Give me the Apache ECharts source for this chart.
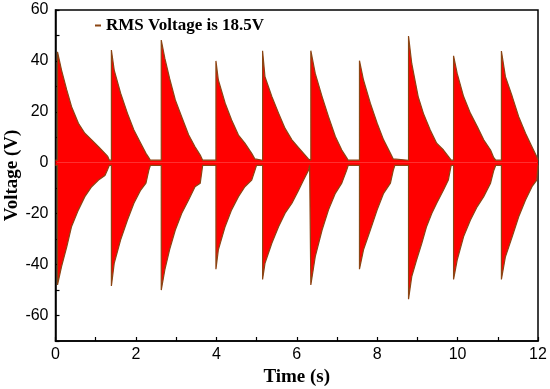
<!DOCTYPE html>
<html>
<head>
<meta charset="utf-8">
<script src="https://cdn.jsdelivr.net/npm/echarts@6/dist/echarts.min.js"></script>
<style>
html,body{margin:0;padding:0;background:#fff;}
#chart{width:550px;height:389px;}
</style>
</head>
<body>
<div id="chart"></div>
<script>
// Envelope of the recorded voltage signal: [time (s), voltage (V)]
const upperEnvelope = [
  [0.00,1],[0.05,1],[0.05,43.6],[0.15,36.4],[0.28,28.6],[0.40,22],[0.57,15.5],[0.73,11.6],[0.90,9],[1.07,6.3],[1.23,3.7],[1.30,2.5],[1.34,1],
  [1.39,1],[1.39,44.3],[1.46,36.4],[1.62,27.3],[1.79,19.4],[1.95,12.9],[2.12,7.7],[2.25,3.7],[2.32,2],[2.36,1],
  [2.63,1],[2.63,48.2],[2.72,41],[2.84,33],[2.98,24.7],[3.14,18],[3.31,11],[3.47,6.3],[3.60,3],[3.66,1],
  [3.99,1],[3.99,40],[4.05,32.5],[4.22,23.4],[4.38,16.8],[4.55,10.9],[4.71,7.7],[4.88,3.7],[4.96,1.5],[5.00,1],
  [5.15,1],[5.15,44],[5.21,33.8],[5.38,26],[5.55,19.4],[5.71,13.5],[5.88,9],[6.04,6],[6.17,3.7],[6.29,1.5],[6.32,1],
  [6.35,1],[6.35,44],[6.46,35.1],[6.63,26],[6.79,18.1],[6.96,10.3],[7.12,5],[7.24,2],[7.28,1],
  [7.56,1],[7.56,40.1],[7.66,32.5],[7.83,23.4],[8.00,15.5],[8.16,9],[8.33,3.7],[8.40,1.5],[8.44,1],
  [8.78,1],[8.78,49.8],[8.86,39],[8.94,32.5],[9.02,26],[9.15,19.4],[9.32,12.9],[9.48,7.7],[9.65,5],[9.77,2.5],[9.84,1],
  [9.90,1],[9.90,42],[9.99,35.1],[10.15,26],[10.32,19.4],[10.49,14.2],[10.65,9],[10.82,5],[10.90,2],[10.95,1],
  [11.09,1],[11.09,43.9],[11.19,33.8],[11.36,26],[11.52,18.1],[11.69,11.6],[11.85,6.3],[11.97,2.4],[12.00,1]
];
const lowerEnvelope = [
  [0.00,-1],[0.05,-1],[0.05,-48],[0.15,-40.8],[0.28,-33],[0.40,-25],[0.57,-18.5],[0.73,-13.3],[0.90,-9.4],[1.07,-6.8],[1.23,-5],[1.30,-2.5],[1.34,-1],
  [1.39,-1],[1.39,-48.4],[1.46,-39.5],[1.62,-30.3],[1.79,-22.5],[1.95,-15.9],[2.12,-10.7],[2.25,-8],[2.32,-3],[2.36,-1],
  [2.63,-1],[2.63,-50],[2.72,-42],[2.84,-34],[2.98,-26.4],[3.14,-19.8],[3.31,-14.6],[3.47,-9.4],[3.60,-8],[3.66,-1],
  [3.99,-1],[3.99,-41.8],[4.05,-34.2],[4.22,-25],[4.38,-18.5],[4.55,-13.3],[4.71,-9.4],[4.88,-6.8],[4.96,-3],[5.00,-1],
  [5.15,-1],[5.15,-45.8],[5.21,-39.5],[5.38,-31.6],[5.55,-25],[5.71,-19.8],[5.88,-15.9],[6.04,-11],[6.17,-6.8],[6.29,-3],[6.32,-1],
  [6.35,-1],[6.35,-48],[6.46,-36.9],[6.63,-26.4],[6.79,-18.5],[6.96,-12],[7.12,-8],[7.24,-3],[7.28,-1],
  [7.56,-1],[7.56,-41.8],[7.66,-34.2],[7.83,-26.4],[8.00,-18.5],[8.16,-12],[8.33,-8],[8.40,-3],[8.44,-1],
  [8.78,-1],[8.78,-53.6],[8.86,-44.7],[8.98,-38.2],[9.11,-31.6],[9.23,-25],[9.36,-19.8],[9.48,-15.9],[9.65,-10.7],[9.77,-6.8],[9.84,-1],
  [9.90,-1],[9.90,-45.8],[9.99,-38.2],[10.15,-29],[10.32,-22.5],[10.49,-17.2],[10.65,-13.3],[10.82,-8],[10.90,-3],[10.95,-1],
  [11.09,-1],[11.09,-45.8],[11.19,-36.9],[11.36,-29],[11.52,-21.2],[11.69,-14.6],[11.85,-9.4],[11.97,-6.8],[12.00,-1]
];
const seriesName = 'RMS Voltage is 18.5V';
const xLabelValues = [0, 2, 4, 6, 8, 10, 12];
const yLabelValues = [-60, -40, -20, 0, 20, 40, 60];

const chart = echarts.init(document.getElementById('chart'), null, {renderer: 'canvas'});
const edgeColor = '#8b4513';
const fillColor = '#ff0000';

function envSeries(data) {
  return {
    name: seriesName,
    type: 'line',
    data: data,
    showSymbol: false,
    symbol: 'none',
    animation: false,
    itemStyle: {color: edgeColor},
    lineStyle: {color: edgeColor, width: 1.2},
    areaStyle: {color: fillColor, opacity: 1},
    z: 2
  };
}

chart.setOption({
  animation: false,
  backgroundColor: '#fff',
  grid: {left: 55.5, right: 12, top: 10, bottom: 48, outerBoundsMode: 'none', containLabel: false,
    show: true, borderColor: '#000', borderWidth: 1.5, backgroundColor: 'transparent'},
  legend: {
    data: [seriesName],
    left: 90, top: 12,
    icon: 'rect', itemWidth: 6, itemHeight: 2, itemGap: 5,
    itemStyle: {color: edgeColor},
    textStyle: {fontFamily: 'Liberation Serif', fontWeight: 'bold', fontSize: 17, color: '#000'}
  },
  xAxis: {
    type: 'value', min: 0, max: 12, interval: 1,
    name: 'Time (s)', nameLocation: 'middle', nameGap: 27, nameMoveOverlap: false,
    nameTextStyle: {fontFamily: 'Liberation Serif', fontWeight: 'bold', fontSize: 19, color: '#000'},
    axisLine: {onZero: false, lineStyle: {color: '#000', width: 1.5}},
    axisTick: {inside: true, length: 4, lineStyle: {color: '#000', width: 1.2}},
    axisLabel: {fontFamily: 'Liberation Sans', fontSize: 16, color: '#000', margin: 6,
      formatter: v => xLabelValues.indexOf(v) >= 0 ? String(v) : ''},
    splitLine: {show: false}
  },
  yAxis: {
    type: 'value', min: -70, max: 60, interval: 10,
    name: 'Voltage (V)', nameLocation: 'middle', nameGap: 43, nameMoveOverlap: false,
    nameTextStyle: {fontFamily: 'Liberation Serif', fontWeight: 'bold', fontSize: 19, color: '#000', verticalAlign: 'middle'},
    axisLine: {onZero: false, lineStyle: {color: '#000', width: 1.5}},
    axisTick: {inside: true, length: 4, lineStyle: {color: '#000', width: 1.2}},
    axisLabel: {fontFamily: 'Liberation Sans', fontSize: 16, color: '#000', margin: 7,
      formatter: v => yLabelValues.indexOf(v) >= 0 ? String(v) : ''},
    splitLine: {show: false}
  },
  series: [envSeries(upperEnvelope), envSeries(lowerEnvelope)]
});
</script>
</body>
</html>
